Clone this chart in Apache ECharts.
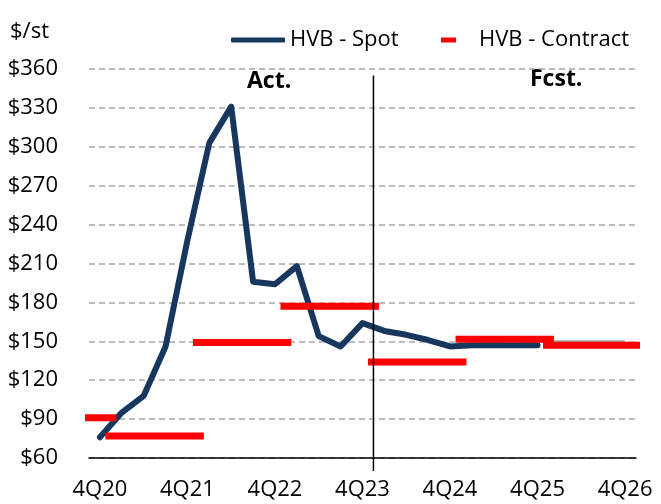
<!DOCTYPE html>
<html>
<head>
<meta charset="utf-8">
<title>HVB price</title>
<script src="https://cdn.jsdelivr.net/npm/echarts@6/dist/echarts.min.js"></script>
<style>
  html, body { margin: 0; padding: 0; background: #ffffff; }
  #main { width: 661px; height: 504px; }
</style>
</head>
<body>
<div id="main"></div>
<script>
// quarters on the x axis (label every 4th)
var quarters = ['4Q20', '1Q21', '2Q21', '3Q21', '4Q21', '1Q22', '2Q22', '3Q22', '4Q22',
  '1Q23', '2Q23', '3Q23', '4Q23', '1Q24', '2Q24', '3Q24', '4Q24',
  '1Q25', '2Q25', '3Q25', '4Q25', '1Q26', '2Q26', '3Q26', '4Q26'];

// HVB spot, $/st
var spotValues = [76, 95, 108, 146, 228, 303, 331, 196, 194, 208, 154, 146, 164,
  158, 155, 151, 146, 147, 147, 147, 147, null, null, null, null];
// light grey tail of the spot line
var spotTail = [null, null, null, null, null, null, null, null, null, null, null, null, null,
  null, null, null, null, null, null, null, 150, 150, 150, 150, 150];

// HVB contract periods, in quarter index units (0 = 4Q20)
var contractStart = [-0.75, 0.25, 4.25, 8.25, 12.25, 16.25, 20.25];
var contractEnd = [0.75, 4.75, 8.75, 12.75, 16.75, 20.75, 24.75];
var contractValues = [91, 77, 149, 177, 134, 151.5, 147];

// actual / forecast divider (between 4Q23 and 1Q24)
var forecastStart = 12.5;
var dividerRange = [355, 50];

var FONT = '"Open Sans", "Noto Sans", sans-serif';
var chart = echarts.init(document.getElementById('main'), null, { renderer: 'canvas' });

var series = [];

series.push({
  name: 'spotTail',
  type: 'line',
  xAxisIndex: 0,
  data: spotTail,
  symbol: 'none',
  lineStyle: { color: '#a6a6a6', width: 2 },
  z: 1,
  silent: true
});

series.push({
  name: 'HVB - Spot',
  type: 'line',
  xAxisIndex: 0,
  data: spotValues,
  symbol: 'none',
  itemStyle: { color: '#17375E' },
  lineStyle: { color: '#17375E', width: 6, cap: 'round', join: 'round' },
  z: 3
});

// each contract period is its own flat segment
contractValues.forEach(function (v, i) {
  series.push({
    name: 'HVB - Contract',
    type: 'line',
    xAxisIndex: 1,
    data: [[contractStart[i], v], [contractEnd[i], v]],
    symbol: 'none',
    clip: false,
    itemStyle: { color: '#ff0000' },
    lineStyle: { color: '#ff0000', width: 7, cap: 'butt' },
    z: 4
  });
});

series.push({
  name: 'divider',
  type: 'line',
  xAxisIndex: 1,
  data: [[forecastStart, dividerRange[0]], [forecastStart, dividerRange[1]]],
  symbol: 'none',
  clip: false,
  silent: true,
  lineStyle: { color: '#000000', width: 1.5 },
  z: 5
});

var option = {
  backgroundColor: '#ffffff',
  animation: false,
  title: {
    text: '$/st',
    left: 5,
    top: 16,
    textStyle: { fontFamily: FONT, fontSize: 22, fontWeight: 'normal', color: '#000000' }
  },
  legend: [
    {
      data: ['HVB - Spot'],
      left: 226,
      top: 24,
      icon: 'roundRect',
      itemWidth: 54,
      itemHeight: 5,
      textStyle: { fontFamily: FONT, fontSize: 22, color: '#000000' }
    },
    {
      data: ['HVB - Contract'],
      left: 436,
      top: 24,
      icon: 'rect',
      itemWidth: 15,
      itemHeight: 5,
      textStyle: { fontFamily: FONT, fontSize: 22, color: '#000000', padding: [0, 0, 0, 18] }
    }
  ],
  grid: { left: 89, right: 25, top: 69, bottom: 46, containLabel: false },
  xAxis: [
    {
      type: 'category',
      data: quarters,
      boundaryGap: true,
      axisLine: { lineStyle: { color: '#000000', width: 1.5 } },
      axisTick: { show: false },
      axisLabel: { interval: 3, fontFamily: FONT, fontSize: 22, color: '#000000', margin: 21 },
      splitLine: { show: false }
    },
    {
      type: 'value',
      min: -0.5,
      max: 24.5,
      show: false,
      splitLine: { show: false }
    }
  ],
  yAxis: {
    type: 'value',
    min: 60,
    max: 360,
    interval: 30,
    axisLine: { show: false },
    axisTick: { show: false },
    axisLabel: {
      formatter: '${value}',
      fontFamily: FONT,
      fontSize: 22,
      color: '#000000',
      margin: 31
    },
    splitLine: { lineStyle: { color: '#a6a6a6', type: [6, 4], width: 1.5 } }
  },
  graphic: [
    {
      type: 'text',
      left: 247,
      top: 70,
      style: { text: 'Act.', font: 'bold 23px ' + FONT, fill: '#000000' }
    },
    {
      type: 'text',
      left: 530,
      top: 68,
      style: { text: 'Fcst.', font: 'bold 23px ' + FONT, fill: '#000000' }
    }
  ],
  series: series
};

chart.setOption(option);
</script>
</body>
</html>
